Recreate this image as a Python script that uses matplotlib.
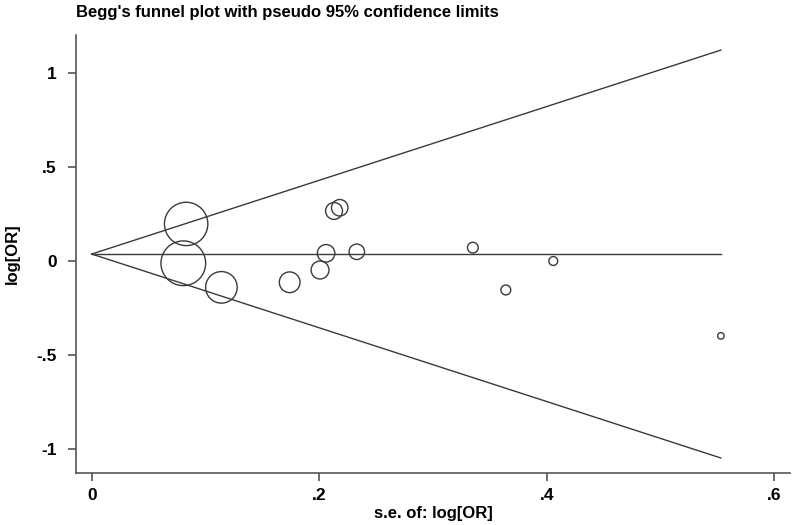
import numpy as np
import matplotlib
matplotlib.use("Agg")
import matplotlib.pyplot as plt

# standard error and log odds ratio of each study
se_logor = [0.083, 0.0805, 0.114, 0.174, 0.2007, 0.206, 0.213, 0.218, 0.233,
            0.335, 0.364, 0.4057, 0.553]
logor = [0.196, -0.013, -0.141, -0.114, -0.049, 0.040, 0.265, 0.282, 0.048,
         0.070, -0.155, -0.001, -0.399]
pooled = 0.036
se_max = 0.553

xticks = [0, 0.2, 0.4, 0.6]
xticklabels = ["0", ".2", ".4", ".6"]
yticks = [-1, -0.5, 0, 0.5, 1]
yticklabels = ["-1", "-.5", "0", ".5", "1"]


def main():
    plt.rcParams['font.family'] = ['Liberation Sans', 'DejaVu Sans']
    fig = plt.figure(figsize=(7.96, 5.25), dpi=100)
    ax = fig.add_axes([0.0955, 0.1, 0.897, 0.8333])

    grey = "#3a3a3a"

    # pseudo 95% limits
    se_line = np.array([0, se_max])
    ax.plot(se_line, pooled + 1.96 * se_line, color=grey, lw=1.0)
    ax.plot(se_line, pooled - 1.96 * se_line, color=grey, lw=1.0)
    ax.plot(se_line, [pooled, pooled], color=grey, lw=1.0)

    # circle size follows weight 1/se^2
    se = np.array(se_logor)
    radius_px = 1.8 / se
    sizes = (2 * radius_px * 0.72) ** 2
    ax.scatter(se, logor, s=sizes, facecolors="none", edgecolors=grey,
               linewidths=1.0, zorder=3)

    ax.set_xlim(-0.0138, 0.6138)
    ax.set_ylim(-1.125, 1.20)
    ax.set_xticks(xticks)
    ax.set_xticklabels(xticklabels)
    ax.set_yticks(yticks)
    ax.set_yticklabels(yticklabels)

    for side in ["top", "right"]:
        ax.spines[side].set_visible(False)
    for side in ["left", "bottom"]:
        ax.spines[side].set_color("#555555")
        ax.spines[side].set_linewidth(1.2)

    ax.tick_params(axis="both", length=6, width=1.2, color="#555555",
                   labelsize=12.5)
    ax.tick_params(axis="y", pad=8)
    ax.tick_params(axis="x", pad=5)
    for lbl in ax.get_xticklabels() + ax.get_yticklabels():
        lbl.set_fontweight("bold")

    ax.set_xlabel("s.e. of: log[OR]", fontsize=12, fontweight="bold", labelpad=2)
    ax.set_ylabel("log[OR]", fontsize=12, fontweight="bold", labelpad=12)

    fig.text(0.0955, 0.976, "Begg's funnel plot with pseudo 95% confidence limits",
             fontsize=12, fontweight="bold", ha="left", va="center")

    fig.savefig("out.png", dpi=100)


if __name__ == "__main__":
    main()
